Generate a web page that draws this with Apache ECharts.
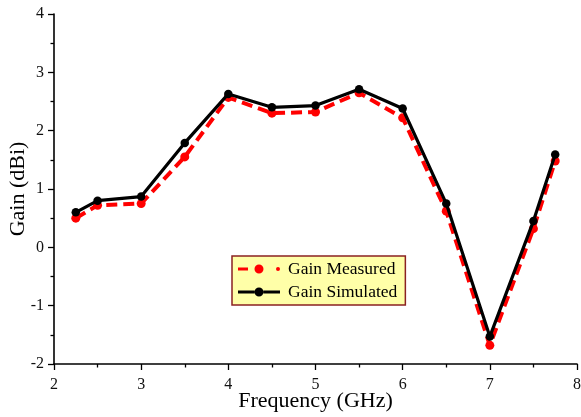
<!DOCTYPE html>
<html>
<head>
<meta charset="utf-8">
<script src="https://cdn.jsdelivr.net/npm/echarts@6/dist/echarts.min.js"></script>
<style>
  html, body { margin: 0; padding: 0; background: #fff; }
  #chart { width: 581px; height: 417px; }
</style>
</head>
<body>
<div id="chart"></div>
<script>
// Frequency points (GHz)
const frequency = [2.25, 2.5, 3, 3.5, 4, 4.5, 5, 5.5, 6, 6.5, 7, 7.5, 7.75];
// Gain values (dBi)
const gainMeasured = [0.50, 0.72, 0.75, 1.55, 2.57, 2.30, 2.32, 2.65, 2.22, 0.62, -1.68, 0.32, 1.48];
const gainSimulated = [0.60, 0.80, 0.87, 1.79, 2.63, 2.40, 2.43, 2.71, 2.38, 0.75, -1.53, 0.45, 1.59];

const pairs = (xs, ys) => xs.map((x, i) => [x, ys[i]]);
const serif = '"Liberation Serif", "Times New Roman", serif';

// Legend glyphs: dash + big dot + small dot, and solid line with a dot
const iconMeasured = 'path://M0,3L10,3L10,6L0,6Z' +
  'M16.5,4.5a4.5,4.5 0 1,1 9,0a4.5,4.5 0 1,1 -9,0Z' +
  'M38,4.5a2,2 0 1,1 4,0a2,2 0 1,1 -4,0Z';
const iconSimulated = 'path://M0,3L16.5,3L16.5,6L0,6Z' +
  'M25.5,3L42,3L42,6L25.5,6Z' +
  'M16.5,4.5a4.5,4.5 0 1,1 9,0a4.5,4.5 0 1,1 -9,0Z';

const chart = echarts.init(document.getElementById('chart'), null, { renderer: 'canvas' });

const axisCommon = {
  axisLine: { show: true, onZero: false, lineStyle: { color: '#000', width: 1.6 } },
  axisTick: { show: true, inside: false, length: 6, lineStyle: { color: '#000', width: 1.3 } },
  minorTick: { show: true, splitNumber: 2, length: 3.5, lineStyle: { color: '#000', width: 1.3 } },
  splitLine: { show: false },
  axisLabel: { color: '#111', fontFamily: serif, fontSize: 16 },
  nameTextStyle: { color: '#000', fontFamily: serif, fontSize: 22 },
  nameMoveOverlap: false
};

chart.setOption({
  animation: false,
  backgroundColor: '#fff',
  grid: { left: 54, right: 4, top: 14, bottom: 53, containLabel: false, outerBoundsMode: 'none' },
  xAxis: Object.assign({}, axisCommon, {
    type: 'value', min: 2, max: 8, interval: 1,
    name: 'Frequency (GHz)', nameLocation: 'middle', nameGap: 26,
    axisLabel: Object.assign({}, axisCommon.axisLabel, { margin: 13 })
  }),
  yAxis: Object.assign({}, axisCommon, {
    type: 'value', min: -2, max: 4, interval: 1,
    name: 'Gain (dBi)', nameLocation: 'middle', nameGap: 25,
    axisLabel: Object.assign({}, axisCommon.axisLabel, { margin: 10 })
  }),
  legend: {
    left: 232, top: 256, orient: 'vertical',
    itemWidth: 42, itemHeight: 9, itemGap: 5,
    padding: [4, 8, 4, 6],
    backgroundColor: '#ffffa8',
    borderColor: '#8b2222', borderWidth: 1.5,
    textStyle: { color: '#000', fontFamily: serif, fontSize: 17.5, padding: [0, 0, 0, 3] },
    data: [
      { name: 'Gain Measured', icon: iconMeasured, itemStyle: { color: '#ff0000', borderWidth: 0 } },
      { name: 'Gain Simulated', icon: iconSimulated, itemStyle: { color: '#000', borderWidth: 0 } }
    ]
  },
  series: [
    {
      name: 'Gain Measured', type: 'line',
      data: pairs(frequency, gainMeasured),
      symbol: 'circle', symbolSize: 9,
      itemStyle: { color: '#ff0000' },
      lineStyle: { color: '#ff0000', width: 4, type: [11, 6] },
      z: 2
    },
    {
      name: 'Gain Simulated', type: 'line',
      data: pairs(frequency, gainSimulated),
      symbol: 'circle', symbolSize: 8.5,
      itemStyle: { color: '#000' },
      lineStyle: { color: '#000', width: 3.2 },
      z: 3
    }
  ]
});
</script>
</body>
</html>
